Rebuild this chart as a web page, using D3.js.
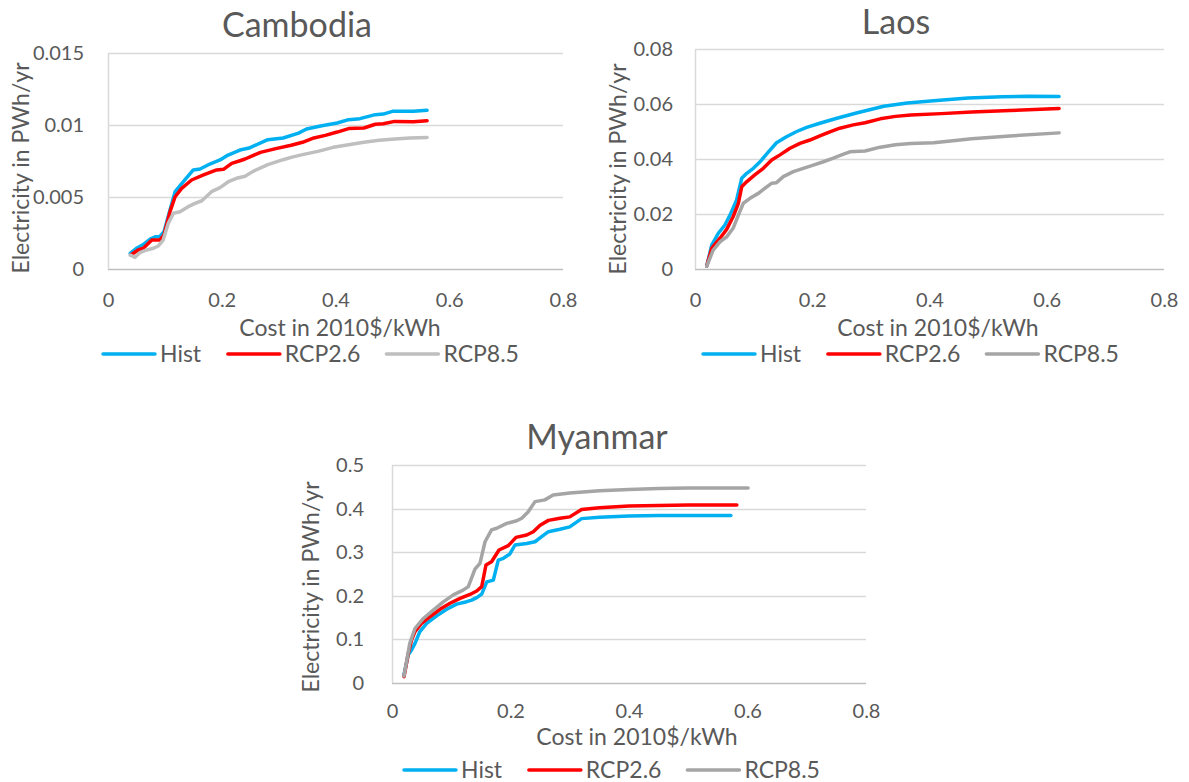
<!DOCTYPE html>
<html>
<head>
<meta charset="utf-8">
<script src="https://cdn.jsdelivr.net/npm/d3@7"></script>
<style>
  html, body { margin: 0; padding: 0; background: #fff; }
  svg text { font-family: Lato, "Open Sans", sans-serif; fill: #595959; }
</style>
</head>
<body>
<div id="chart"></div>
<script>
// Series shared by all three panels
const seriesNames = ["Hist", "RCP2.6", "RCP8.5"];
const xTicks = [0, 0.2, 0.4, 0.6, 0.8];

// Cambodia: [cost in 2010$/kWh, electricity in PWh/yr]
const cambodiaYTicks = [0, 0.005, 0.01, 0.015];
const cambodiaHist = [
  [0.039, 0.00109], [0.05, 0.00144], [0.062, 0.0017], [0.074, 0.00208], [0.083, 0.00224],
  [0.091, 0.00224], [0.0985, 0.00259], [0.109, 0.0041], [0.118, 0.00537], [0.1325, 0.00606],
  [0.15, 0.00688], [0.162, 0.00694], [0.179, 0.00729], [0.197, 0.00757], [0.209, 0.00787],
  [0.232, 0.00826], [0.248, 0.0084], [0.281, 0.00898], [0.308, 0.0091], [0.335, 0.00944],
  [0.349, 0.00972], [0.376, 0.00995], [0.403, 0.01014], [0.423, 0.01037], [0.443, 0.01044],
  [0.47, 0.01072], [0.484, 0.01076], [0.5, 0.01095], [0.537, 0.01095], [0.561, 0.01103]
];
const cambodiaRcp26 = [
  [0.04, 0.00097], [0.053, 0.00132], [0.062, 0.00144], [0.077, 0.00201], [0.083, 0.00201],
  [0.091, 0.00201], [0.0985, 0.00236], [0.109, 0.00398], [0.118, 0.00502], [0.1295, 0.0056],
  [0.147, 0.00618], [0.168, 0.00653], [0.191, 0.00688], [0.203, 0.00692], [0.2175, 0.00734],
  [0.232, 0.00752], [0.241, 0.00764], [0.268, 0.0081], [0.295, 0.00836], [0.322, 0.00859],
  [0.342, 0.0088], [0.362, 0.0091], [0.382, 0.00928], [0.403, 0.00951], [0.423, 0.00975],
  [0.45, 0.00979], [0.47, 0.01005], [0.484, 0.01009], [0.504, 0.01025], [0.537, 0.01023],
  [0.561, 0.0103]
];
const cambodiaRcp85 = [
  [0.039, 0.00097], [0.0475, 0.00081], [0.056, 0.00113], [0.068, 0.00132], [0.08, 0.00144],
  [0.0885, 0.0016], [0.097, 0.00201], [0.106, 0.00317], [0.115, 0.00387], [0.1266, 0.00398],
  [0.141, 0.00433], [0.153, 0.00456], [0.165, 0.00474], [0.182, 0.00537], [0.197, 0.00565],
  [0.2116, 0.00606], [0.226, 0.0063], [0.241, 0.00644], [0.255, 0.00678], [0.281, 0.00725],
  [0.308, 0.00759], [0.322, 0.00775], [0.342, 0.00794], [0.369, 0.00817], [0.396, 0.00845],
  [0.423, 0.00863], [0.45, 0.0088], [0.477, 0.00894], [0.504, 0.00903], [0.531, 0.0091],
  [0.561, 0.00913]
];

// Laos
const laosYTicks = [0, 0.02, 0.04, 0.06, 0.08];
const laosHist = [
  [0.02, 0.0011], [0.0285, 0.0087], [0.0398, 0.013], [0.051, 0.016], [0.0597, 0.0196],
  [0.071, 0.0251], [0.0797, 0.033], [0.0882, 0.0348], [0.0995, 0.0366], [0.111, 0.039],
  [0.122, 0.0418], [0.139, 0.0459], [0.156, 0.0481], [0.1735, 0.05], [0.1905, 0.0515],
  [0.213, 0.053], [0.242, 0.0548], [0.277, 0.0568], [0.303, 0.0582], [0.322, 0.0592],
  [0.362, 0.0604], [0.407, 0.0612], [0.466, 0.0622], [0.524, 0.0626], [0.57, 0.0628],
  [0.621, 0.0627]
];
const laosRcp26 = [
  [0.02, 0.0011], [0.0285, 0.0075], [0.0426, 0.0112], [0.054, 0.0144], [0.065, 0.019],
  [0.074, 0.0239], [0.0797, 0.0299], [0.088, 0.0317], [0.102, 0.0342], [0.1165, 0.0366],
  [0.1308, 0.0396], [0.145, 0.0415], [0.162, 0.0439], [0.179, 0.0457], [0.196, 0.0469],
  [0.213, 0.0484], [0.23, 0.0499], [0.247, 0.0512], [0.27, 0.0524], [0.29, 0.0532],
  [0.316, 0.0546], [0.342, 0.0555], [0.368, 0.056], [0.42, 0.0565], [0.472, 0.0571],
  [0.537, 0.0576], [0.621, 0.0584]
];
const laosRcp85 = [
  [0.02, 0.001], [0.031, 0.0069], [0.0426, 0.0099], [0.054, 0.0117], [0.065, 0.0148],
  [0.074, 0.0196], [0.0824, 0.0239], [0.0938, 0.0257], [0.108, 0.0275], [0.119, 0.0293],
  [0.131, 0.0312], [0.139, 0.0314], [0.1506, 0.0336], [0.1677, 0.0354], [0.1847, 0.0366],
  [0.2018, 0.0378], [0.219, 0.039], [0.236, 0.0403], [0.25, 0.0415], [0.264, 0.0426],
  [0.29, 0.0429], [0.316, 0.0443], [0.342, 0.0452], [0.368, 0.0456], [0.407, 0.0459],
  [0.44, 0.0466], [0.472, 0.0474], [0.537, 0.0484], [0.621, 0.0495]
];

// Myanmar
const myanmarYTicks = [0, 0.1, 0.2, 0.3, 0.4, 0.5];
const myanmarHist = [
  [0.0203, 0.02], [0.0275, 0.065], [0.033, 0.0757], [0.0388, 0.091], [0.047, 0.118],
  [0.0585, 0.137], [0.0754, 0.154], [0.0923, 0.169], [0.109, 0.181], [0.126, 0.1865],
  [0.1345, 0.19], [0.143, 0.1957], [0.1514, 0.204], [0.16, 0.232], [0.171, 0.236],
  [0.1794, 0.282], [0.188, 0.286], [0.199, 0.296], [0.2076, 0.3165], [0.2273, 0.32],
  [0.2414, 0.324], [0.2526, 0.3355], [0.264, 0.347], [0.2835, 0.3525], [0.3, 0.358],
  [0.32, 0.377], [0.35, 0.38], [0.4, 0.383], [0.45, 0.384], [0.572, 0.384]
];
const myanmarRcp26 = [
  [0.0203, 0.0145], [0.0275, 0.068], [0.033, 0.0986], [0.0388, 0.118], [0.05, 0.137],
  [0.064, 0.152], [0.081, 0.169], [0.098, 0.183], [0.1148, 0.194], [0.1316, 0.203],
  [0.143, 0.211], [0.1514, 0.221], [0.1586, 0.2706], [0.168, 0.278], [0.1806, 0.305],
  [0.1963, 0.315], [0.2093, 0.334], [0.2273, 0.3394], [0.2385, 0.347], [0.25, 0.362],
  [0.264, 0.373], [0.2835, 0.3777], [0.3, 0.381], [0.32, 0.398], [0.35, 0.402],
  [0.4, 0.406], [0.5, 0.408], [0.582, 0.408]
];
const myanmarRcp85 = [
  [0.0203, 0.016], [0.03, 0.091], [0.0388, 0.125], [0.0529, 0.148], [0.0697, 0.167],
  [0.0866, 0.186], [0.1035, 0.202], [0.12, 0.213], [0.1288, 0.221], [0.14, 0.261],
  [0.1485, 0.2745], [0.157, 0.324], [0.168, 0.351], [0.1767, 0.355], [0.1936, 0.366],
  [0.2105, 0.372], [0.219, 0.378], [0.23, 0.393], [0.2414, 0.416], [0.258, 0.42],
  [0.272, 0.431], [0.3, 0.436], [0.35, 0.441], [0.4, 0.444], [0.45, 0.446],
  [0.5, 0.447], [0.601, 0.447]
];

const svg = d3
  .select("#chart")
  .append("svg")
  .attr("width", 1189)
  .attr("height", 782);

class LinePanel {
  constructor(opts) {
    this.opts = opts;
    this.g = svg.append("g").attr("class", "panel");
    this.xScale = d3.scaleLinear().domain([0, 0.8]).range([opts.left, opts.right]);
    this.yScale = d3
      .scaleLinear()
      .domain(d3.extent(opts.yTicks))
      .range([opts.bottom, opts.top]);
    this.drawGrid();
    this.drawAxes();
    this.drawLines();
    this.addLabels();
    this.addLegend();
  }
  drawGrid() {
    const o = this.opts;
    // horizontal gridlines, the bottom one doubles as the x axis
    this.g
      .selectAll("line.grid")
      .data(o.yTicks)
      .enter()
      .append("line")
      .attr("class", "grid")
      .attr("x1", o.left)
      .attr("x2", o.right)
      .attr("y1", (d) => Math.round(this.yScale(d)) + 0.5)
      .attr("y2", (d) => Math.round(this.yScale(d)) + 0.5)
      .attr("stroke", (d) => (d === 0 ? "#BFBFBF" : "#D9D9D9"))
      .attr("stroke-width", 1.5);
    // vertical axis line
    this.g
      .append("line")
      .attr("x1", o.left + 0.5)
      .attr("x2", o.left + 0.5)
      .attr("y1", o.top)
      .attr("y2", o.bottom)
      .attr("stroke", "#D9D9D9")
      .attr("stroke-width", 1.5);
  }
  drawAxes() {
    const o = this.opts;
    const yAxis = d3
      .axisLeft(this.yScale)
      .tickValues(o.yTicks)
      .tickSize(0)
      .tickPadding(o.left - o.yLabelRight)
      .tickFormat((d) => String(d));
    const yg = this.g.append("g").attr("transform", `translate(${o.left},0)`).call(yAxis);
    yg.select(".domain").remove();
    yg.selectAll("text").attr("font-size", 20).attr("fill", "#595959").attr("font-family", null);

    const xAxis = d3
      .axisBottom(this.xScale)
      .tickValues(xTicks)
      .tickSize(0)
      .tickPadding(0)
      .tickFormat((d) => String(d));
    const xg = this.g.append("g").attr("transform", `translate(0,${o.xTickBase})`).call(xAxis);
    xg.select(".domain").remove();
    xg.selectAll("text")
      .attr("dy", 0)
      .attr("y", 0)
      .attr("font-size", 20)
      .attr("fill", "#595959")
      .attr("font-family", null);
  }
  drawLines() {
    const o = this.opts;
    const line = d3
      .line()
      .x((d) => this.xScale(d[0]))
      .y((d) => this.yScale(d[1]));
    this.g
      .selectAll("path.series")
      .data(o.series)
      .enter()
      .append("path")
      .attr("class", "series")
      .attr("d", (d) => line(d))
      .attr("fill", "none")
      .attr("stroke", (d, i) => o.colors[i])
      .attr("stroke-width", 3.5)
      .attr("stroke-linejoin", "round")
      .attr("stroke-linecap", "round");
  }
  addLabels() {
    const o = this.opts;
    // panel title
    this.g
      .append("text")
      .text(o.title)
      .attr("x", o.titleX)
      .attr("y", o.titleBase)
      .attr("text-anchor", "middle")
      .attr("font-size", 34);
    // x title
    this.g
      .append("text")
      .text("Cost in 2010$/kWh")
      .attr("x", o.xTitleX)
      .attr("y", o.xTitleBase)
      .attr("text-anchor", "middle")
      .attr("font-size", 23);
    // y title
    this.g
      .append("text")
      .text("Electricity in PWh/yr")
      .attr("transform", `translate(${o.yTitleBase},${o.yTitleY}) rotate(-90)`)
      .attr("text-anchor", "middle")
      .attr("font-size", 23);
  }
  addLegend() {
    const o = this.opts;
    const legend = this.g
      .append("g")
      .attr("class", "legend")
      .attr("transform", `translate(${o.legendX},${o.legendY})`);
    const lg = legend.selectAll("g").data(seriesNames).enter().append("g");
    lg.append("line")
      .attr("x1", 0)
      .attr("x2", 52)
      .attr("y1", 0)
      .attr("y2", 0)
      .attr("stroke", (d, i) => o.colors[i])
      .attr("stroke-width", 3.5)
      .attr("stroke-linecap", "round");
    lg.append("text")
      .text((d) => d)
      .attr("x", 57)
      .attr("y", 8)
      .attr("font-size", 23);
    let offset = 0;
    lg.attr("transform", function () {
      const x = offset;
      offset += this.getBBox().width + 26;
      return `translate(${x},0)`;
    });
  }
}

new LinePanel({
  title: "Cambodia",
  series: [cambodiaHist, cambodiaRcp26, cambodiaRcp85],
  colors: ["#00B0F0", "#FF0000", "#BFBFBF"],
  yTicks: cambodiaYTicks,
  left: 108, right: 563, top: 53, bottom: 269,
  yLabelRight: 84, xTickBase: 307,
  titleX: 297, titleBase: 37,
  xTitleX: 340, xTitleBase: 336,
  yTitleBase: 29, yTitleY: 168,
  legendX: 103, legendY: 354
});

new LinePanel({
  title: "Laos",
  series: [laosHist, laosRcp26, laosRcp85],
  colors: ["#00B0F0", "#FF0000", "#A5A5A5"],
  yTicks: laosYTicks,
  left: 695, right: 1164, top: 49, bottom: 269,
  yLabelRight: 673, xTickBase: 307,
  titleX: 896, titleBase: 34,
  xTitleX: 938, xTitleBase: 336,
  yTitleBase: 626, yTitleY: 169,
  legendX: 703, legendY: 354
});

new LinePanel({
  title: "Myanmar",
  series: [myanmarHist, myanmarRcp26, myanmarRcp85],
  colors: ["#00B0F0", "#FF0000", "#A5A5A5"],
  yTicks: myanmarYTicks,
  left: 392, right: 866, top: 465, bottom: 683,
  yLabelRight: 364, xTickBase: 718,
  titleX: 597, titleBase: 449,
  xTitleX: 637, xTitleBase: 745,
  yTitleBase: 319, yTitleY: 587,
  legendX: 404, legendY: 770
});
</script>
</body>
</html>
